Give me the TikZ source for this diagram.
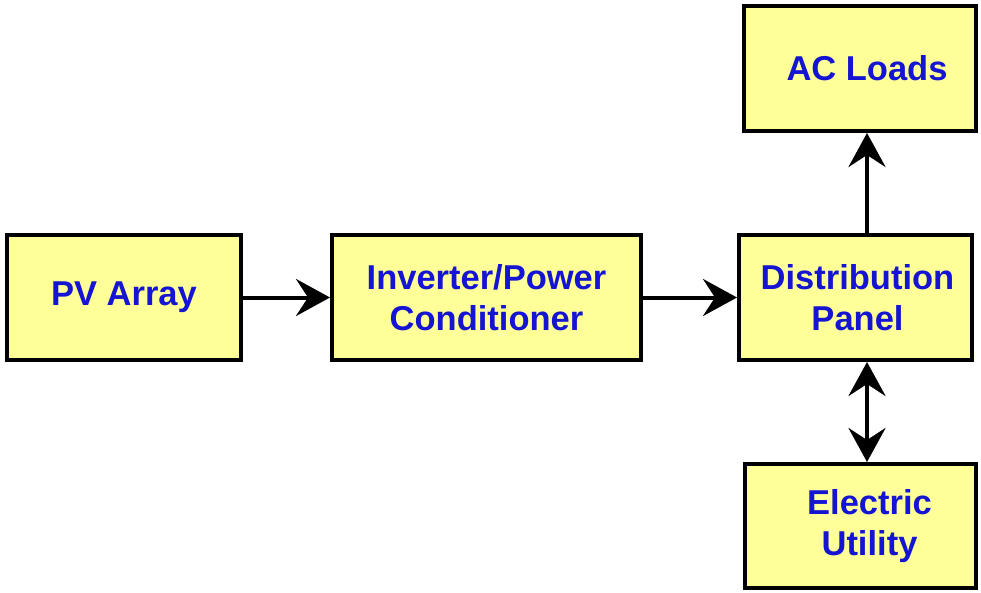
\documentclass[tikz,border=0pt]{standalone}
\usepackage{fontspec}
\setmainfont{Liberation Sans}
\usetikzlibrary{arrows.meta}
\definecolor{boxfill}{RGB}{255,255,153}
\definecolor{txtblue}{RGB}{20,20,210}
\begin{document}
\begin{tikzpicture}[x=1pt,y=-1pt,
  blk/.style={draw=black,line width=4pt,fill=boxfill,rectangle,inner sep=0pt,
    text=txtblue,font=\fontsize{34.5}{41}\selectfont\bfseries,align=center},
  conn/.style={line width=4pt,-{Stealth[length=34pt,width=37pt,inset=12pt]}},
  conn2/.style={line width=4pt,{Stealth[length=34pt,width=37pt,inset=12pt]}-{Stealth[length=34pt,width=37pt,inset=12pt]}}]
\useasboundingbox (0,0) rectangle (981,593);
\node[blk,minimum width=234pt,minimum height=125pt] (pv) at (124,297.5) {PV Array};
\node[blk,minimum width=309pt,minimum height=125pt] (inv) at (486.5,297.5) {Inverter/Power\\Conditioner};
\node[blk,minimum width=233pt,minimum height=125pt] (dist) at (855.5,297.5) {\hspace*{4pt}Distribution\\\hspace*{4pt}Panel};
\node[blk,minimum width=232pt,minimum height=125pt] (ac) at (860,68.5) {\hspace*{14pt}AC Loads};
\node[blk,minimum width=231pt,minimum height=124pt] (util) at (860.5,526) {\hspace*{18pt}Electric\\\hspace*{18pt}Utility};
\coordinate (vx) at (867,0);
\draw[conn] (pv.east) -- (inv.west);
\draw[conn] (inv.east) -- (dist.west);
\draw[conn] (dist.north -| vx) -- (ac.south -| vx);
\draw[conn2] (dist.south -| vx) -- (util.north -| vx);
\end{tikzpicture}
\end{document}
